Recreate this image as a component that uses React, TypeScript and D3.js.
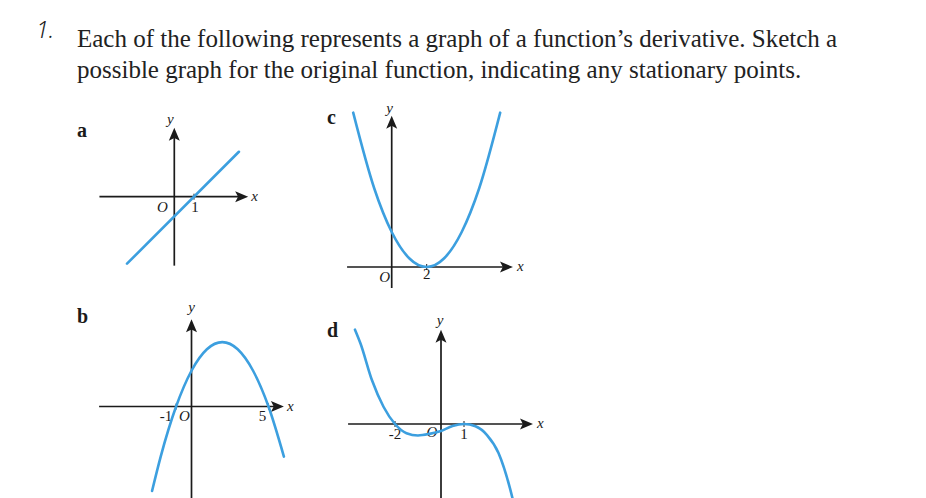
import * as d3 from 'd3'

// question text
const titleLines = [
  'Each of the following represents a graph of a function\u2019s derivative. Sketch a',
  'possible graph for the original function, indicating any stationary points.',
]

// a: straight line through (1, 0)
const aX = [-2.4, 3.28]
const aY = [-3.4, 2.28]
const aTicks = [1]

// b: parabola opening down, roots -1 and 5
const bX = [-2.56, -2, -1, 0, 1, 2, 3, 4, 5, 6]
const bY = [-5.9, -3.5, 0, 2.5, 4, 4.5, 4, 2.5, 0, -3.5]
const bTicks = [-1, 5]

// c: parabola opening up, touching at 2
const cX = [-2.2, -1, 0, 1, 2, 3, 4, 5, 6.2]
const cY = [8.82, 4.5, 2, 0.5, 0, 0.5, 2, 4.5, 8.82]
const cTicks = [2]

// d: cubic, root -2, touching at 1
const dX = [-3.74, -3.5, -3, -2.5, -2, -1.5, -1, -0.5, 0, 0.5, 1, 1.5, 2, 2.5, 3, 3.15]
const dY = [4.1, 3.5, 1.9, 0.75, 0, -0.4, -0.5, -0.43, -0.3, -0.09, 0, -0.1, -0.48, -1.26, -2.8, -3.4]
const dTicks = [-2, 1]

const BLUE = '#3c9fdf'
const INK = '#1b1b1b'

type PanelProps = {
  ox: number
  oy: number
  ux: number
  uy: number
  xMin: number
  xMax: number
  yMin: number
  yMax: number
  xs: number[]
  ys: number[]
  ticks: number[]
  tickLabels: { v: number; dx: number }[]
  oLabel: { dx: number; dy: number }
  tickDy: number
  letter: { x: number; y: number; t: string }
  yLab: { dx: number; dy: number }
  xLab: { dx: number; dy: number }
}

function Panel(p: PanelProps) {
  const x = d3.scaleLinear().domain([0, 1]).range([p.ox, p.ox + p.ux])
  const y = d3.scaleLinear().domain([0, 1]).range([p.oy, p.oy - p.uy])
  const pts: [number, number][] = p.xs.map((v, i) => [v, p.ys[i]])
  const line = d3
    .line<[number, number]>()
    .x(d => x(d[0]))
    .y(d => y(d[1]))
    .curve(p.xs.length > 2 ? d3.curveMonotoneX : d3.curveLinear)

  const xTip = x(p.xMax)
  const yTip = y(p.yMax)
  const L = 13
  const W = 5.5
  const xArrow = `M${xTip},${p.oy} L${xTip - L},${p.oy - W} L${xTip - L * 0.78},${p.oy} L${xTip - L},${p.oy + W} Z`
  const yArrow = `M${p.ox},${yTip} L${p.ox - W},${yTip + L} L${p.ox},${yTip + L * 0.78} L${p.ox + W},${yTip + L} Z`
  const serif = '"Liberation Serif", "Times New Roman", serif'

  return (
    <g>
      <text x={p.letter.x} y={p.letter.y} fontFamily={serif} fontWeight="bold" fontSize={20} fill={INK}>
        {p.letter.t}
      </text>
      <line x1={x(p.xMin)} x2={xTip - 8} y1={p.oy} y2={p.oy} stroke={INK} strokeWidth={1.7} />
      <line x1={p.ox} x2={p.ox} y1={y(p.yMin)} y2={yTip + 8} stroke={INK} strokeWidth={1.7} />
      <path d={xArrow} fill={INK} />
      <path d={yArrow} fill={INK} />
      {p.ticks.map(t => (
        <line key={t} x1={x(t)} x2={x(t)} y1={p.oy - 3} y2={p.oy + 3} stroke={INK} strokeWidth={1} />
      ))}
      <g fontFamily={serif} fontSize={15} fill={INK}>
        <text x={p.ox + p.yLab.dx} y={yTip + p.yLab.dy} fontStyle="italic" textAnchor="middle">y</text>
        <text x={xTip + p.xLab.dx} y={p.oy + p.xLab.dy} fontStyle="italic">x</text>
        <text x={p.ox + p.oLabel.dx} y={p.oy + p.oLabel.dy} fontStyle="italic" textAnchor="middle">O</text>
        {p.tickLabels.map(t => (
          <text key={t.v} x={x(t.v) + t.dx} y={p.oy + p.tickDy} textAnchor="middle">
            {t.v < 0 ? '-' + Math.abs(t.v) : String(t.v)}
          </text>
        ))}
      </g>
      <path d={line(pts) ?? ''} fill="none" stroke={BLUE} strokeWidth={2.6} strokeLinecap="round" />
    </g>
  )
}

export default function App() {
  const serif = '"Liberation Serif", "Times New Roman", serif'
  return (
    <svg width={926} height={498} style={{ position: 'absolute', left: 0, top: 0, background: '#fff' }}>
      <text x={36} y={38} fontFamily='"Noto Sans", sans-serif' fontStyle="italic" fontWeight={300} fontSize={23} fill={INK}>
        1.
      </text>
      {titleLines.map((t, i) => (
        <text key={i} x={77} y={46.5 + i * 31.5} fontFamily={serif} fontSize={25} fill="#222">
          {t}
        </text>
      ))}
      <Panel
        ox={174.3} oy={196.7} ux={19.7} uy={19.7}
        xMin={-3.8} xMax={3.75} yMin={-3.5} yMax={3.5}
        xs={aX} ys={aY} ticks={aTicks}
        tickLabels={[{ v: aTicks[0], dx: 1 }]}
        oLabel={{ dx: -12, dy: 15 }} tickDy={15}
        letter={{ x: 77, y: 137, t: 'a' }}
        yLab={{ dx: -4, dy: -4 }} xLab={{ dx: 3, dy: 4 }}
      />
      <Panel
        ox={191.5} oy={406.5} ux={15.4} uy={14.3}
        xMin={-6} xMax={6} yMin={-7} yMax={6.1}
        xs={bX} ys={bY} ticks={bTicks}
        tickLabels={[{ v: bTicks[0], dx: -10 }, { v: bTicks[1], dx: -6 }]}
        oLabel={{ dx: -7, dy: 14 }} tickDy={14}
        letter={{ x: 77, y: 323, t: 'b' }}
        yLab={{ dx: 0, dy: -7 }} xLab={{ dx: 3, dy: 4 }}
      />
      <Panel
        ox={391.7} oy={267} ux={17.5} uy={17.5}
        xMin={-2.55} xMax={6.93} yMin={-1.2} yMax={8.65}
        xs={cX} ys={cY} ticks={cTicks}
        tickLabels={[{ v: cTicks[0], dx: 0 }]}
        oLabel={{ dx: -7, dy: 15 }} tickDy={12}
        letter={{ x: 327, y: 124, t: 'c' }}
        yLab={{ dx: -2, dy: -3 }} xLab={{ dx: 4, dy: 4 }}
      />
      <Panel
        ox={441} oy={424} ux={23} uy={23}
        xMin={-4.04} xMax={4} yMin={-3.6} yMax={4.1}
        xs={dX} ys={dY} ticks={dTicks}
        tickLabels={[{ v: dTicks[0], dx: 0 }, { v: dTicks[1], dx: 0 }]}
        oLabel={{ dx: -9, dy: 13 }} tickDy={15}
        letter={{ x: 327, y: 337, t: 'd' }}
        yLab={{ dx: -1, dy: -5 }} xLab={{ dx: 4, dy: 4 }}
      />
    </svg>
  )
}
